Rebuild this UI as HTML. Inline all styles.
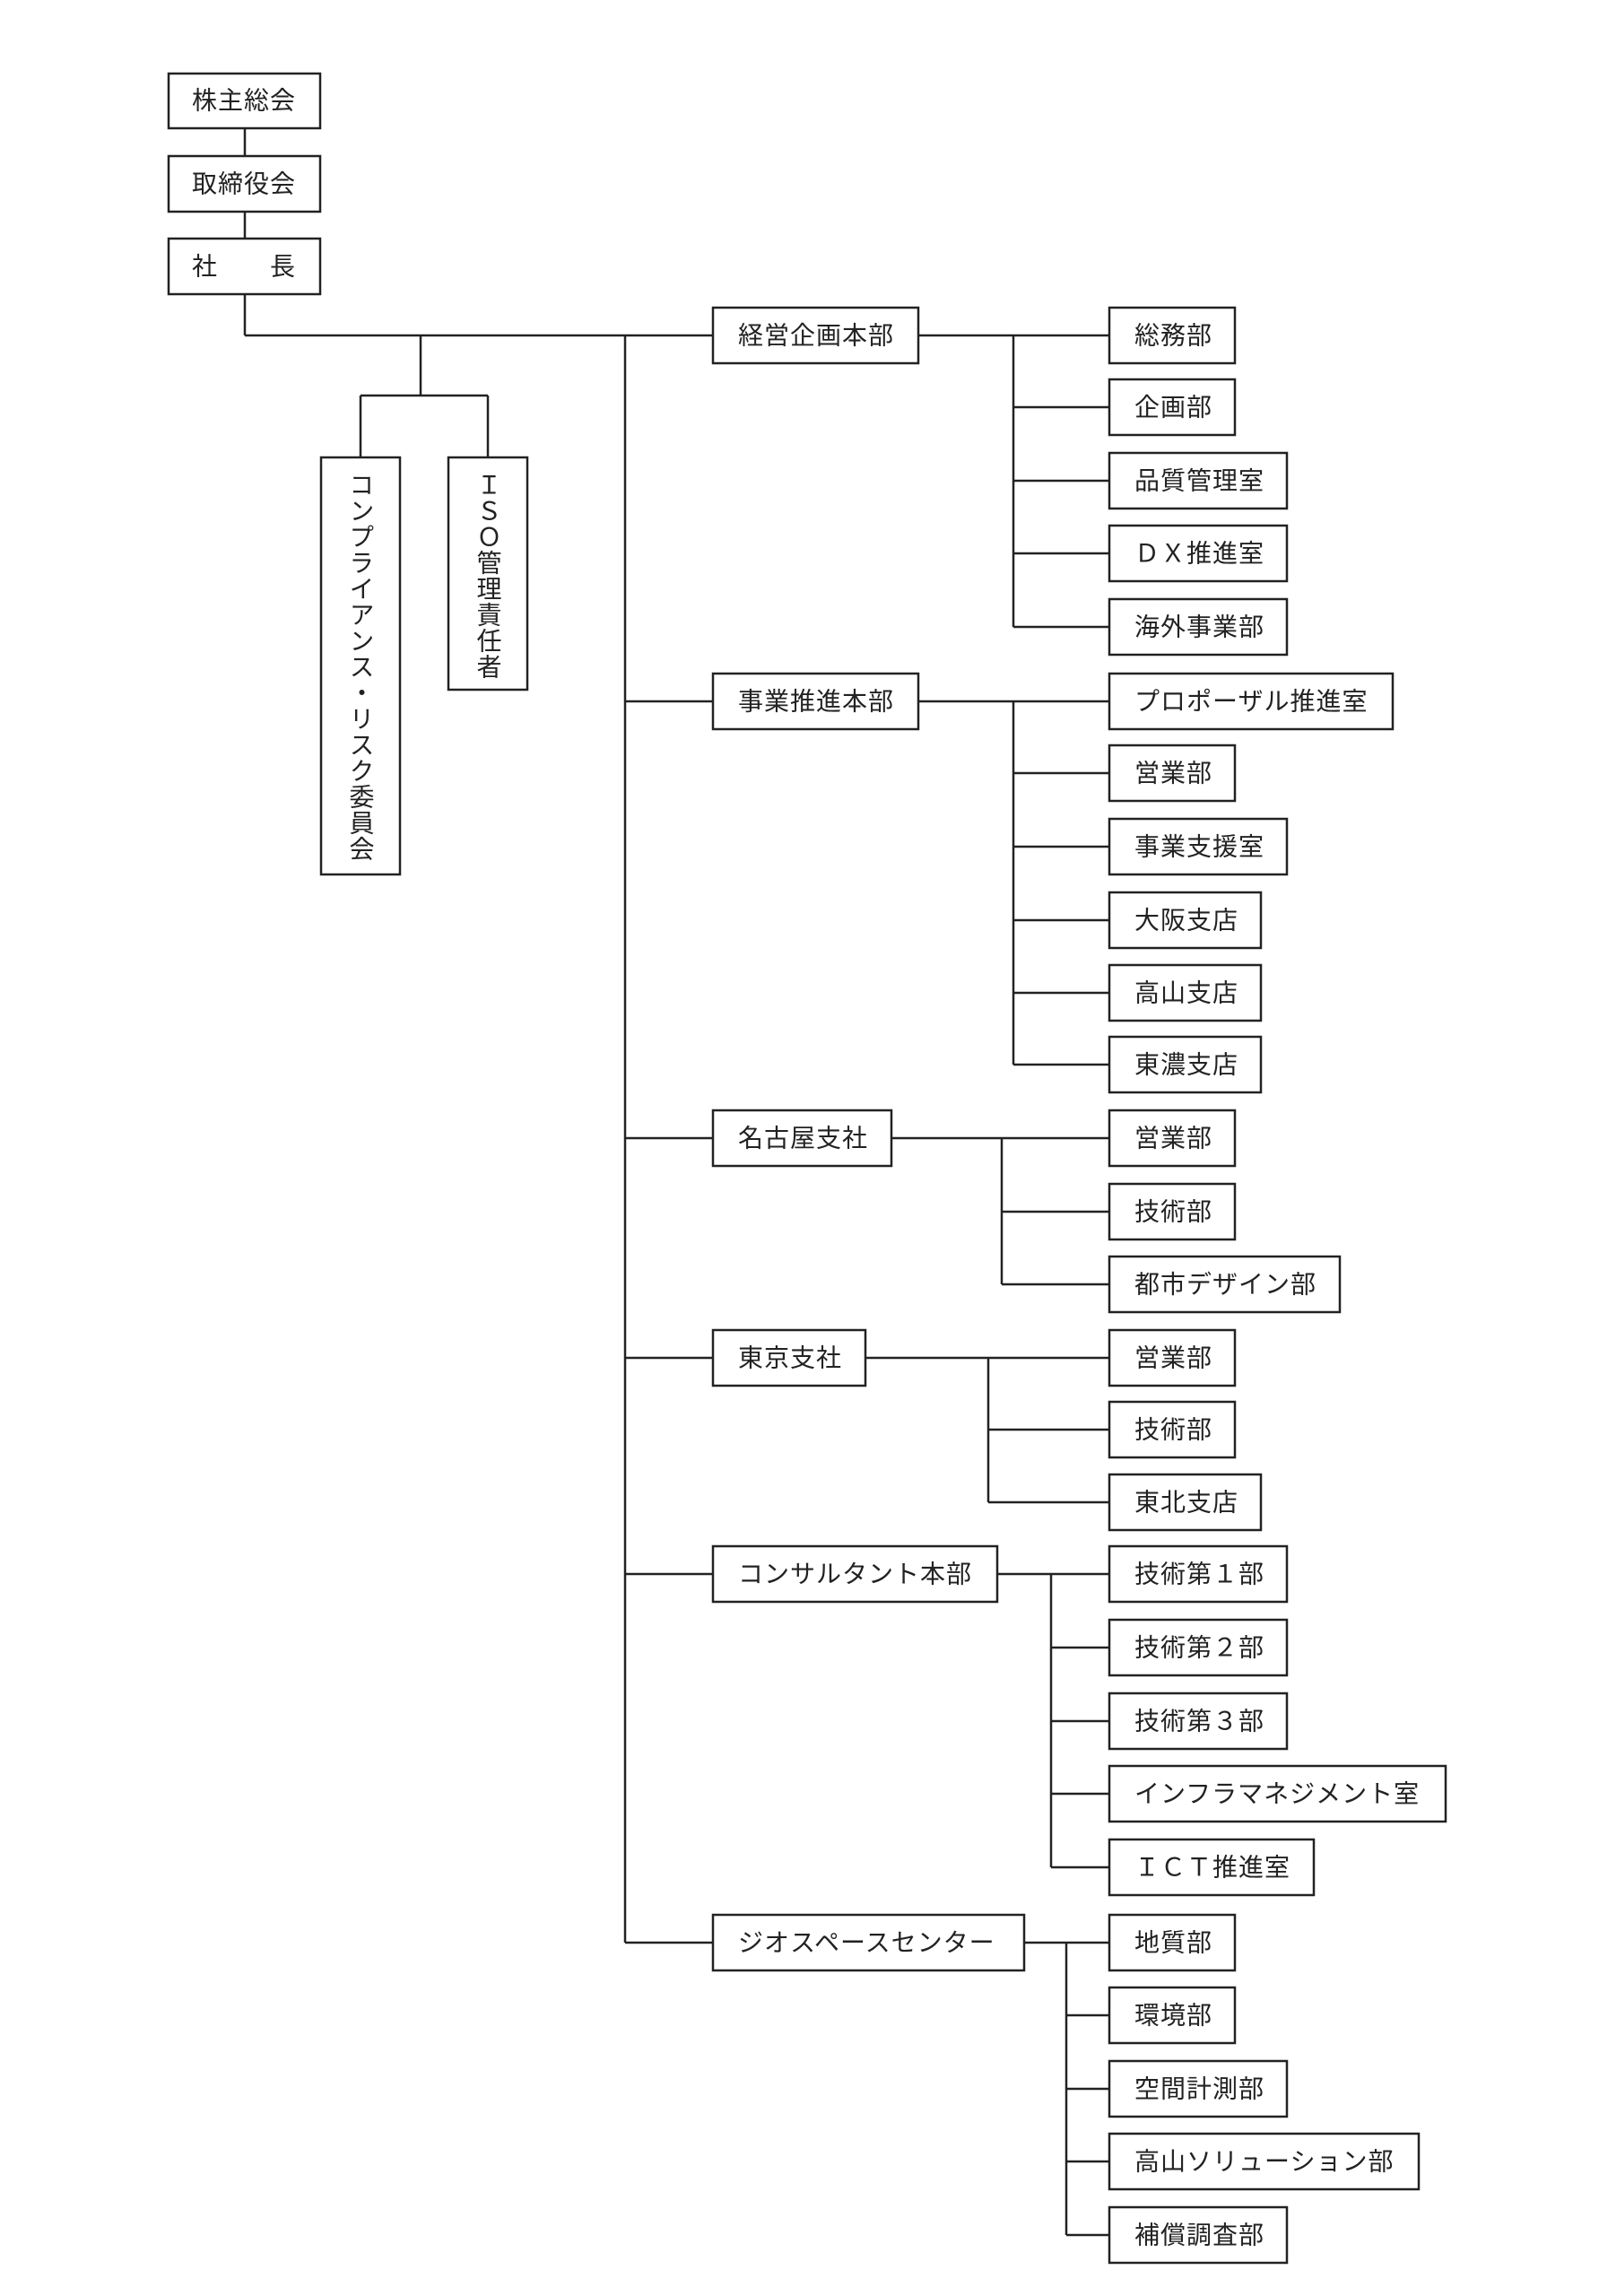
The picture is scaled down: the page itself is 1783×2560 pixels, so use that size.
<!DOCTYPE html>
<html><head><meta charset="utf-8"><style>
html,body{margin:0;padding:0;background:#fff;}
svg{display:block;}
text{font-family:"Liberation Sans","Noto Sans CJK JP",sans-serif;font-size:28px;fill:#222;letter-spacing:1px;}
.v{font-size:28px;letter-spacing:1px;}
</style></head><body>
<svg width="1783" height="2560" viewBox="0 0 1783 2560" xmlns="http://www.w3.org/2000/svg">
<g stroke="#222" stroke-width="2.5" fill="none">
<line x1="273" y1="143" x2="273" y2="174"/>
<line x1="273" y1="236" x2="273" y2="266"/>
<line x1="273" y1="328" x2="273" y2="374"/>
<line x1="273" y1="374" x2="795" y2="374"/>
<line x1="469" y1="374" x2="469" y2="441"/>
<line x1="402" y1="441" x2="544" y2="441"/>
<line x1="402" y1="441" x2="402" y2="510"/>
<line x1="544" y1="441" x2="544" y2="510"/>
<line x1="697" y1="374" x2="697" y2="2166"/>
<line x1="697" y1="782" x2="795" y2="782"/>
<line x1="697" y1="1269" x2="795" y2="1269"/>
<line x1="697" y1="1514" x2="795" y2="1514"/>
<line x1="697" y1="1755" x2="795" y2="1755"/>
<line x1="697" y1="2166" x2="795" y2="2166"/>
<line x1="1024" y1="374" x2="1237" y2="374"/>
<line x1="1130" y1="374" x2="1130" y2="699"/>
<line x1="1130" y1="454" x2="1237" y2="454"/>
<line x1="1130" y1="536" x2="1237" y2="536"/>
<line x1="1130" y1="617" x2="1237" y2="617"/>
<line x1="1130" y1="699" x2="1237" y2="699"/>
<line x1="1024" y1="782" x2="1237" y2="782"/>
<line x1="1130" y1="782" x2="1130" y2="1187"/>
<line x1="1130" y1="862" x2="1237" y2="862"/>
<line x1="1130" y1="944" x2="1237" y2="944"/>
<line x1="1130" y1="1026" x2="1237" y2="1026"/>
<line x1="1130" y1="1107" x2="1237" y2="1107"/>
<line x1="1130" y1="1187" x2="1237" y2="1187"/>
<line x1="994" y1="1269" x2="1237" y2="1269"/>
<line x1="1117" y1="1269" x2="1117" y2="1432"/>
<line x1="1117" y1="1351" x2="1237" y2="1351"/>
<line x1="1117" y1="1432" x2="1237" y2="1432"/>
<line x1="965" y1="1514" x2="1237" y2="1514"/>
<line x1="1102" y1="1514" x2="1102" y2="1675"/>
<line x1="1102" y1="1594" x2="1237" y2="1594"/>
<line x1="1102" y1="1675" x2="1237" y2="1675"/>
<line x1="1112" y1="1755" x2="1237" y2="1755"/>
<line x1="1172" y1="1755" x2="1172" y2="2082"/>
<line x1="1172" y1="1837" x2="1237" y2="1837"/>
<line x1="1172" y1="1919" x2="1237" y2="1919"/>
<line x1="1172" y1="2000" x2="1237" y2="2000"/>
<line x1="1172" y1="2082" x2="1237" y2="2082"/>
<line x1="1142" y1="2166" x2="1237" y2="2166"/>
<line x1="1189" y1="2166" x2="1189" y2="2492"/>
<line x1="1189" y1="2247" x2="1237" y2="2247"/>
<line x1="1189" y1="2329" x2="1237" y2="2329"/>
<line x1="1189" y1="2410" x2="1237" y2="2410"/>
<line x1="1189" y1="2492" x2="1237" y2="2492"/>
<rect x="188" y="82" width="169" height="61" fill="#fff"/>
<rect x="188" y="174" width="169" height="62" fill="#fff"/>
<rect x="188" y="266" width="169" height="62" fill="#fff"/>
<rect x="358" y="510" width="88" height="465" fill="#fff"/>
<rect x="500" y="510" width="88" height="259" fill="#fff"/>
<rect x="795" y="343" width="229" height="62" fill="#fff"/>
<rect x="795" y="751" width="229" height="62" fill="#fff"/>
<rect x="795" y="1238" width="199" height="62" fill="#fff"/>
<rect x="795" y="1483" width="170" height="62" fill="#fff"/>
<rect x="795" y="1724" width="317" height="62" fill="#fff"/>
<rect x="795" y="2135" width="347" height="62" fill="#fff"/>
<rect x="1237" y="343" width="140" height="62"/>
<rect x="1237" y="423" width="140" height="62"/>
<rect x="1237" y="505" width="198" height="62"/>
<rect x="1237" y="586" width="198" height="62"/>
<rect x="1237" y="668" width="198" height="62"/>
<rect x="1237" y="751" width="316" height="62"/>
<rect x="1237" y="831" width="140" height="62"/>
<rect x="1237" y="913" width="198" height="62"/>
<rect x="1237" y="995" width="169" height="62"/>
<rect x="1237" y="1076" width="169" height="62"/>
<rect x="1237" y="1156" width="169" height="62"/>
<rect x="1237" y="1238" width="140" height="62"/>
<rect x="1237" y="1320" width="140" height="62"/>
<rect x="1237" y="1401" width="257" height="62"/>
<rect x="1237" y="1483" width="140" height="62"/>
<rect x="1237" y="1563" width="140" height="62"/>
<rect x="1237" y="1644" width="169" height="62"/>
<rect x="1237" y="1724" width="198" height="62"/>
<rect x="1237" y="1806" width="198" height="62"/>
<rect x="1237" y="1888" width="198" height="62"/>
<rect x="1237" y="1969" width="375" height="62"/>
<rect x="1237" y="2051" width="228" height="62"/>
<rect x="1237" y="2135" width="140" height="62"/>
<rect x="1237" y="2216" width="140" height="62"/>
<rect x="1237" y="2298" width="198" height="62"/>
<rect x="1237" y="2379" width="345" height="62"/>
<rect x="1237" y="2461" width="198" height="62"/>
</g>
<g dominant-baseline="central">
<text x="214" y="112">株主総会</text>
<text x="214" y="205">取締役会</text>
<text x="214" y="297">社　　長</text>
<text x="823" y="374">経営企画本部</text>
<text x="823" y="782">事業推進本部</text>
<text x="823" y="1269">名古屋支社</text>
<text x="823" y="1514">東京支社</text>
<text x="823" y="1755">コンサルタント本部</text>
<text x="823" y="2166">ジオスペースセンター</text>
<text x="1265" y="374">総務部</text>
<text x="1265" y="454">企画部</text>
<text x="1265" y="536">品質管理室</text>
<text x="1265" y="617">ＤＸ推進室</text>
<text x="1265" y="699">海外事業部</text>
<text x="1265" y="782">プロポーザル推進室</text>
<text x="1265" y="862">営業部</text>
<text x="1265" y="944">事業支援室</text>
<text x="1265" y="1026">大阪支店</text>
<text x="1265" y="1107">高山支店</text>
<text x="1265" y="1187">東濃支店</text>
<text x="1265" y="1269">営業部</text>
<text x="1265" y="1351">技術部</text>
<text x="1265" y="1432">都市デザイン部</text>
<text x="1265" y="1514">営業部</text>
<text x="1265" y="1594">技術部</text>
<text x="1265" y="1675">東北支店</text>
<text x="1265" y="1755">技術第１部</text>
<text x="1265" y="1837">技術第２部</text>
<text x="1265" y="1919">技術第３部</text>
<text x="1265" y="2000">インフラマネジメント室</text>
<text x="1265" y="2082">ＩＣＴ推進室</text>
<text x="1265" y="2166">地質部</text>
<text x="1265" y="2247">環境部</text>
<text x="1265" y="2329">空間計測部</text>
<text x="1265" y="2410">高山ソリューション部</text>
<text x="1265" y="2492">補償調査部</text>
</g>
<text class="v" x="402" y="526" style="writing-mode:vertical-rl;text-orientation:upright;">コンプライアンス・リスク委員会</text>
<text class="v" x="544" y="526" style="writing-mode:vertical-rl;text-orientation:upright;">ＩＳＯ管理責任者</text>
</svg>
</body></html>
